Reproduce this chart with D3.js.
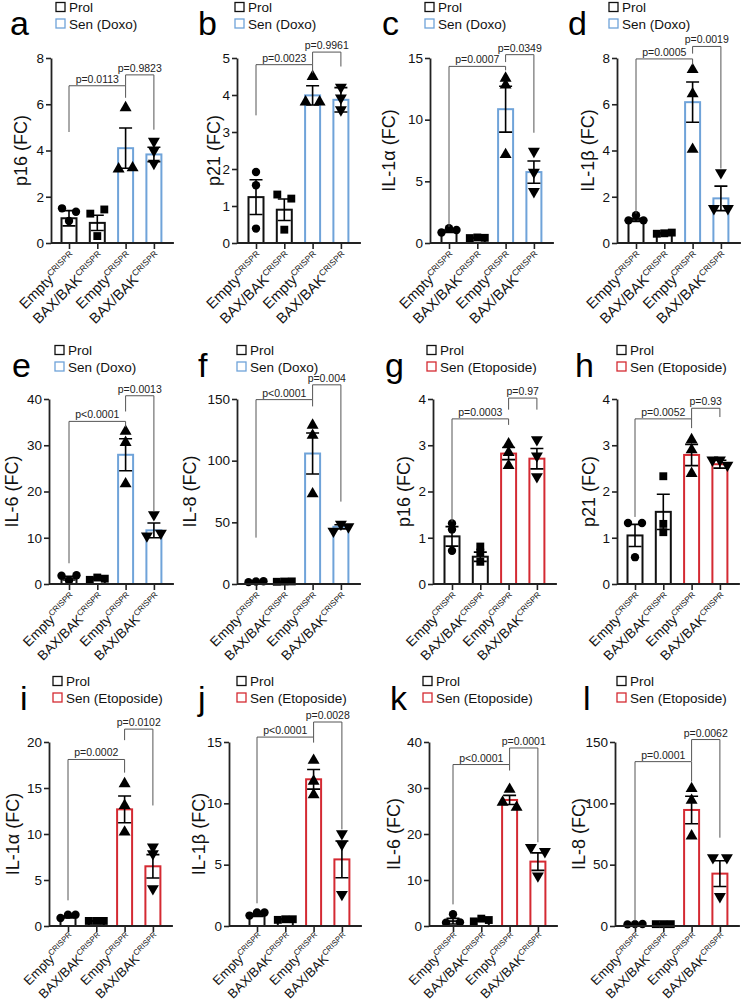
<!DOCTYPE html>
<html><head><meta charset="utf-8">
<script src="https://cdn.jsdelivr.net/npm/d3@7"></script>
<style>
body{margin:0;background:#fff}
svg{display:block}
text{font-family:"Liberation Sans", Arial, Helvetica, sans-serif}
</style>
</head><body>
<svg id="chart" width="742" height="1008"></svg>
<script>
// ---------------- DATA ----------------
const panelLetters = ["a","b","c","d","e","f","g","h","i","j","k","l"];
const yTitles = ["p16 (FC)","p21 (FC)","IL-1\u03b1 (FC)","IL-1\u03b2 (FC)","IL-6 (FC)","IL-8 (FC)",
                 "p16 (FC)","p21 (FC)","IL-1\u03b1 (FC)","IL-1\u03b2 (FC)","IL-6 (FC)","IL-8 (FC)"];
const legendProl = "Prol";
const legendSen = ["Sen (Doxo)","Sen (Doxo)","Sen (Doxo)","Sen (Doxo)","Sen (Doxo)","Sen (Doxo)",
                   "Sen (Etoposide)","Sen (Etoposide)","Sen (Etoposide)","Sen (Etoposide)","Sen (Etoposide)","Sen (Etoposide)"];
const groupNames = ["Empty","BAX/BAK","Empty","BAX/BAK"];
const groupSup = "CRISPR";
const yMax  = [8,5,15,8,40,150,4,4,20,15,40,150];
const yStep = [2,1,5,2,10,50,1,1,5,5,10,50];

const means = [
 [1.07,0.87,4.1,3.83],
 [1.24,0.9,3.99,3.87],
 [0.95,0.42,10.85,5.75],
 [1.0,0.42,6.09,1.93],
 [1.25,1.15,27.94,11.6],
 [1.8,1.9,105.8,46.4],
 [1.03,0.59,2.82,2.71],
 [1.05,1.56,2.79,2.59],
 [0.98,0.55,12.68,6.49],
 [0.87,0.55,11.96,5.43],
 [1.05,1.24,27.4,14.0],
 [1.5,1.5,94.6,42.7]
];
const sems = [
 [0.33,0.33,0.87,0.31],
 [0.47,0.29,0.26,0.33],
 [0.1,0.03,1.86,0.9],
 [0.07,0.02,0.87,0.53],
 [0.4,0.15,3.45,1.6],
 [0.2,0.1,16.6,1.7],
 [0.21,0.1,0.13,0.22],
 [0.24,0.38,0.23,0.085],
 [0.1,0.02,1.45,1.27],
 [0.1,0.02,0.8,1.5],
 [0.6,0.2,1.0,1.9],
 [0.1,0.1,11.2,10.5]
];
const points = [
 [[1.5,1.35,0.95],[1.27,1.45,0.3],[5.85,3.2,3.25],[4.4,4.0,3.45]],
 [[1.92,1.56,0.39],[1.31,1.2,0.36],[4.5,3.81,3.81],[4.21,3.92,3.6]],
 [[0.85,1.2,1.05],[0.4,0.45,0.42],[13.36,12.8,7.17],[7.44,5.75,4.17]],
 [[0.98,1.2,0.98],[0.4,0.42,0.45],[7.5,6.45,4.05],[3.04,1.49,1.49]],
 [[1.8,0.72,1.9],[0.9,1.4,1.15],[33.0,30.6,21.66],[15.0,10.4,11.0]],
 [[1.5,2.0,2.2],[1.8,2.0,2.1],[128.7,120.5,73.1],[42.8,48.5,46.4]],
 [[1.31,1.18,0.72],[0.81,0.68,0.48],[3.03,2.84,2.56],[3.12,2.77,2.32]],
 [[1.32,1.32,0.58],[2.33,1.3,1.12],[3.12,2.9,2.39],[2.68,2.68,2.57]],
 [[0.87,1.23,1.23],[0.55,0.55,0.55],[15.47,13.1,10.2],[8.59,7.86,4.06]],
 [[0.85,1.1,1.1],[0.5,0.55,0.55],[13.5,11.8,10.7],[7.53,6.66,2.58]],
 [[2.55,0.7,0.8],[1.0,1.6,1.3],[29.7,26.9,25.8],[17.1,16.2,10.9]],
 [[1.3,1.5,1.6],[1.5,1.5,1.5],[112,102.4,73.4],[55.7,55.7,24]]
];
// brackets: [height, left-leg end, right-leg end] in data units
const bracket1 = [[6.8,4.8,6.28],[4.82,3.45,4.59],[14.32,1.3,14.0],[7.96,1.27,7.71],[35.16,4.48,33.9],[149.5,37.6,144],
                  [3.57,1.35,3.44],[3.57,1.45,3.37],[18.1,2.79,16.67],[15.4,1.85,14.95],[35.1,4.7,33.8],[134,4,117.7]];
const bracket2 = [[7.27,6.8,4.9],[5.16,4.82,4.77],[15.27,14.67,8.94],[8.5,8.19,3.22],[40.7,37.3,15.67],[161.5,149.5,66.8],
                  [4.02,3.77,3.77],[3.8,3.57,3.61],[21.4,20.2,13.1],[16.63,15.4,7.88],[38.7,35.1,18.2],[152,134.5,72]];
const pValues1 = ["p=0.0113","p=0.0023","p=0.0007","p=0.0005","p<0.0001","p<0.0001","p=0.0003","p=0.0052","p=0.0002","p<0.0001","p<0.0001","p=0.0001"];
const pValues2 = ["p=0.9823","p=0.9961","p=0.0349","p=0.0019","p=0.0013","p=0.004","p=0.97","p=0.93","p=0.0102","p=0.0028","p=0.0001","p=0.0062"];

// ---------------- LAYOUT (pixels) ----------------
const rowY0 = [243,584,926], rowTop = [58,399,742];
const rowLetterY = [35,377,710], rowLegendY = [12,355,686];
const rowLabelFont = [14.5,13.5,13], rowSupFont = [8.5,8,7.8];
// per panel: axisX, bar1X, titleX, letterX, legendX
const layout = [
 [51,69,20,10,56],[237,256,213,198,235],[430,449,388,382,425],[617,636,587,568,609],
 [49,69,11,12,55],[237,256,189,198,237],[433,452,403,385,427],[617,635,588,575,617],
 [49,68,12,20,53],[229,257,198,198,237],[429,453,393,390,423],[615,635,578,583,617]
];
const barStep = 28.3, barW = 15;
const BLACK = "#111", BLUE = "#6fa3d9", RED = "#d42a32", AX = "#222";

const svg = d3.select("#chart");

function dodge(ys){
  const n = ys.length, off = new Array(n).fill(0);
  const idx = d3.range(n).sort((a,b)=>ys[a]-ys[b]);
  const clusters = []; let cur = [idx[0]];
  for(let k=1;k<n;k++){
    if(ys[idx[k]]-ys[idx[k-1]] < 5.5) cur.push(idx[k]); else {clusters.push(cur); cur=[idx[k]];}
  }
  clusters.push(cur);
  clusters.forEach(c=>{
    const s = c.slice().sort((a,b)=>a-b);
    const sp = s.length===2 ? 14 : 7.5;
    s.forEach((j,m)=>{ off[j] = (m-(s.length-1)/2)*sp; });
  });
  return off;
}

const symTypes = [d3.symbolCircle, d3.symbolSquare, d3.symbolTriangle, d3.symbolTriangle];
const symSizes = [55, 62, 62, 62];

panelLetters.forEach((letter,p)=>{
  const row = Math.floor(p/4);
  const [axisX, bar1X, titleX, letterX, legendX] = layout[p];
  const y0 = rowY0[row], yT = rowTop[row];
  const senColor = p < 6 ? BLUE : RED;
  const barColors = [BLACK, BLACK, senColor, senColor];
  const g = svg.append("g");

  const y = d3.scaleLinear().domain([0, yMax[p]]).range([y0, yT]);
  const x = d3.scalePoint().domain(d3.range(4)).range([bar1X, bar1X + 3*barStep]);

  // bars
  g.selectAll("rect.bar").data(means[p]).join("rect")
    .attr("x",(d,i)=>x(i)-barW/2).attr("y",d=>y(d))
    .attr("width",barW).attr("height",d=>y(0)-y(d))
    .attr("fill","#fff").attr("stroke",(d,i)=>barColors[i]).attr("stroke-width",2);

  // points
  points[p].forEach((vals,i)=>{
    const offs = dodge(vals.map(v=>y0 - y(v)));
    vals.forEach((v,k)=>{
      g.append("path")
        .attr("d", d3.symbol().type(symTypes[i]).size(symSizes[i])())
        .attr("transform",`translate(${x(i)+offs[k]},${y(v)})${i===3?" rotate(180)":""}`)
        .attr("fill","#000");
    });
  });

  // error bars
  means[p].forEach((m,i)=>{
    const cx = x(i), hi = y(m+sems[p][i]), lo = y(Math.max(0,m-sems[p][i]));
    g.append("path")
      .attr("d",`M${cx},${hi}V${lo}M${cx-6.5},${hi}H${cx+6.5}M${cx-6.5},${lo}H${cx+6.5}`)
      .attr("stroke","#000").attr("stroke-width",1.6).attr("fill","none");
  });

  // y axis
  const yAxis = d3.axisLeft(y).tickValues(d3.range(0, yMax[p]+1e-9, yStep[p]))
    .tickSize(5).tickPadding(2).tickSizeOuter(0).tickFormat(d3.format("d"));
  const ga = g.append("g").attr("transform",`translate(${axisX},0)`).call(yAxis);
  ga.select(".domain").attr("stroke",AX).attr("stroke-width",1.8);
  ga.selectAll(".tick line").attr("stroke",AX).attr("stroke-width",1.6);
  ga.selectAll(".tick text").attr("font-size",13.5).attr("fill","#111")
    .attr("font-family",'"Liberation Sans", Arial, sans-serif');

  // x axis line + ticks
  g.append("line").attr("x1",axisX).attr("x2",x(3)+20).attr("y1",y0).attr("y2",y0)
    .attr("stroke",AX).attr("stroke-width",1.8);
  const xAxis = d3.axisBottom(x).tickSize(6).tickFormat("").tickSizeOuter(0);
  const gx = g.append("g").attr("transform",`translate(0,${y0})`).call(xAxis);
  gx.select(".domain").remove();
  gx.selectAll(".tick line").attr("stroke",AX).attr("stroke-width",1.6);

  // x labels
  groupNames.forEach((nm,i)=>{
    const t = g.append("text")
      .attr("transform",`translate(${x(i)+8},${y0+(row===2?13:15)}) rotate(-45)`)
      .attr("text-anchor","end").attr("font-size",rowLabelFont[row]).attr("fill","#111");
    t.append("tspan").text(nm);
    t.append("tspan").attr("font-size",rowSupFont[row]).attr("dy",-5.5).text(groupSup);
  });

  // y title
  g.append("text")
    .attr("transform",`translate(${titleX+6.5},${(y0+yT)/2}) rotate(-90)`)
    .attr("text-anchor","middle").attr("font-size",18).attr("fill","#111")
    .text(yTitles[p]);

  // panel letter
  g.append("text").attr("x",letterX).attr("y",rowLetterY[row])
    .attr("font-size",34).attr("fill","#000").text(letter);

  // legend
  const ly = rowLegendY[row];
  [[legendProl, BLACK],[legendSen[p], senColor]].forEach(([lab,col],k)=>{
    const by = ly + k*16.5;
    g.append("rect").attr("x",legendX).attr("y",by-9.5).attr("width",9).attr("height",9)
      .attr("fill","#fff").attr("stroke",col).attr("stroke-width",1.3);
    g.append("text").attr("x",legendX+13).attr("y",by).attr("font-size",13.5).attr("fill","#111").text(lab);
  });

  // significance brackets
  [[bracket1[p],0,2,pValues1[p]],[bracket2[p],2,3,pValues2[p]]].forEach(([b,i1,i2,lab])=>{
    const [h,le,re] = b;
    const xa = x(i1), xb = x(i2);
    g.append("path").attr("d",`M${xa},${y(le)}V${y(h)}H${xb}V${y(re)}`)
      .attr("fill","none").attr("stroke","#555").attr("stroke-width",1);
    g.append("text").attr("x",(xa+xb)/2).attr("y",y(h)-3).attr("text-anchor","middle")
      .attr("font-size",10.5).attr("fill","#222").text(lab);
  });
});
</script>
</body></html>
